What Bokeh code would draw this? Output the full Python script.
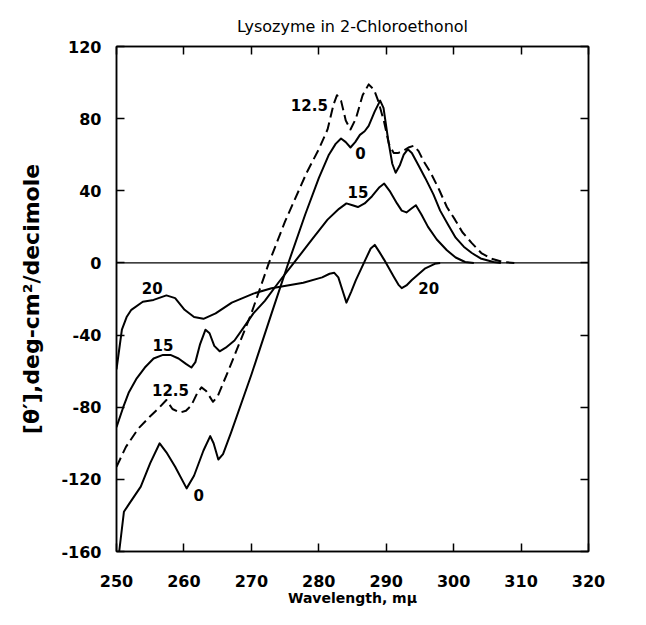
from bokeh.plotting import figure
from bokeh.models import LinearAxis, FixedTicker, Span
from bokeh.embed import file_html
from bokeh.resources import INLINE
from bokeh.core.properties import value

FONT = "DejaVu Sans"

x_ticks = [250, 260, 270, 280, 290, 300, 310, 320]
y_ticks = [-160, -120, -80, -40, 0, 40, 80, 120]
y_tick_labels = ["-160", "-120", "-80", "-40", "0", "40", "80", "120"]

# curve "0" (solid)
wl_0 = [250.4, 251.1, 251.8, 253.6, 255.0, 256.4, 257.4, 258.7, 260.4, 261.5, 262.9, 263.9,
        264.4, 265.1, 265.8, 267.0, 270.0, 273.0, 275.4, 278.0, 280.0, 281.5, 282.5, 283.3,
        284.0, 284.7, 285.4, 286.1, 286.8, 287.4, 288.3, 289.1, 289.6, 290.3, 290.9, 291.4,
        292.0, 292.6, 293.2, 293.8, 294.8, 295.8, 297.0, 298.0, 299.2, 300.3, 301.5, 302.7,
        304.0, 305.9, 307.0]
theta_0 = [-160, -138, -134, -124, -111, -100, -105, -113, -125, -118, -104, -96,
           -100, -109, -106, -94, -62, -28, -1, 27, 47, 60, 66, 69,
           67, 64, 67, 71, 73, 76, 84, 90, 86, 68, 55, 50,
           54, 60, 63, 61, 54, 47, 38, 29, 21, 14, 9, 5.5,
           2.5, 0.5, 0]

# curve "12.5" (dashed)
wl_125 = [250.0, 251.4, 253.2, 255.0, 256.4, 257.4, 258.3, 259.4, 260.3, 261.1, 262.0, 262.6,
          263.3, 264.3, 265.0, 267.0, 270.0, 272.6, 275.0, 278.2, 280.0, 281.3, 282.2, 282.7,
          283.3, 284.0, 284.7, 285.5, 286.5, 287.4, 288.2, 288.8, 289.7, 290.4, 291.1, 291.8,
          292.5, 293.3, 294.1, 294.8, 295.6, 296.6, 297.8, 299.0, 300.2, 301.3, 302.7, 304.1,
          305.5, 307.3, 309.0]
theta_125 = [-113, -102, -92, -85, -80, -76, -81, -83, -82, -79, -72, -69,
             -71, -77, -74, -56, -28, 0, 23, 50, 63, 74, 88, 93,
             90, 79, 74, 80, 93, 99, 96, 90, 78, 66, 61, 61,
             62, 64, 65, 62, 56, 50, 41, 31, 24, 17, 11, 5.5,
             2.5, 0.5, 0]

# curve "15" (solid)
wl_15 = [250.0, 251.0, 251.8, 253.0, 254.2, 255.5, 256.9, 258.0, 259.2, 260.3, 261.1, 261.7,
         262.4, 263.2, 263.8, 264.5, 265.3, 266.2, 267.5, 269.0, 270.3, 272.0, 274.0, 276.3,
         279.0, 281.3, 283.0, 284.1, 285.0, 285.8, 286.8, 287.9, 289.0, 289.7, 290.5, 291.6,
         292.3, 293.0, 293.7, 294.4, 295.2, 296.2, 297.5, 299.0, 300.3, 301.7, 303.0]
theta_15 = [-91, -80, -72, -64, -58, -53, -51, -51, -53, -56, -58, -55,
            -45, -37, -39, -46, -49, -47, -43, -35, -28, -21, -11, 0,
            13, 24, 30, 33, 32, 31, 33, 37, 42, 44, 40, 33,
            29, 28, 30, 32, 27, 20, 13, 7, 3, 0.5, 0]

# curve "20" (solid)
wl_20 = [250.0, 250.4, 250.8, 251.5, 252.2, 253.9, 255.5, 257.4, 258.7, 260.1, 261.5, 262.9,
         264.7, 267.1, 270.3, 273.0, 277.7, 280.5, 281.6, 282.3, 282.9, 283.5, 284.1, 284.8,
         285.5, 286.9, 287.7, 288.3, 289.0, 289.7, 291.1, 291.8, 292.3, 293.0, 293.8, 295.8,
         297.2, 298.0]
theta_20 = [-59, -48, -37, -30, -26, -21.5, -20.5, -18, -19.5, -26, -30, -31,
            -28, -22, -17, -14, -11, -8, -6, -5.5, -8, -15, -22, -16,
            -9.5, 1.7, 8, 10, 6, 1.7, -7.5, -12, -14, -12.5, -9.5, -3,
            -0.5, 0]

label_text = ["12.5", "0", "15", "20", "15", "12.5", "0", "20"]
label_x = [278.6, 286.2, 285.8, 255.3, 256.9, 258.0, 262.2, 296.3]
label_y = [87.5, 61, 39.5, -14, -45.4, -70.4, -128.5, -14]

p = figure(width=630, height=609,
           min_border_left=116, min_border_right=42, min_border_top=46, min_border_bottom=58,
           x_range=(250, 320), y_range=(-160, 120),
           output_backend="svg", toolbar_location=None,
           title="Lysozyme in 2-Chloroethonol")
p.title.align = "center"
p.title.text_font = FONT
p.title.text_font_size = "16px"
p.title.text_font_style = "normal"
p.title.text_color = "black"
p.title.standoff = 22

p.grid.visible = False
p.outline_line_color = "black"
p.outline_line_width = 1.5
p.background_fill_color = "white"
p.border_fill_color = "white"

for ax, ticks in ((p.xaxis[0], x_ticks), (p.yaxis[0], y_ticks)):
    ax.ticker = FixedTicker(ticks=ticks)
    ax.major_tick_in = 8
    ax.major_tick_out = 0
    ax.minor_tick_line_color = None
    ax.axis_line_width = 1.5
    ax.major_tick_line_width = 1.5
    ax.major_label_text_font = FONT
    ax.major_label_text_font_size = "16px"
    ax.major_label_text_font_style = "bold"
    ax.major_label_text_color = "black"
    ax.axis_label_text_font = FONT
    ax.axis_label_text_font_style = "bold"
    ax.axis_label_text_color = "black"

p.yaxis[0].major_label_overrides = dict(zip(y_ticks, y_tick_labels))

p.xaxis[0].axis_label = "Wavelength, mμ"
p.xaxis[0].axis_label_text_font_size = "14px"
p.xaxis[0].major_label_standoff = 23
p.xaxis[0].axis_label_standoff = 0
p.yaxis[0].axis_label = "[θ′],deg-cm²/decimole"
p.yaxis[0].axis_label_text_font_size = "22px"
p.yaxis[0].major_label_standoff = 15
p.yaxis[0].axis_label_standoff = 14

top = LinearAxis(ticker=FixedTicker(ticks=x_ticks), major_tick_in=8, major_tick_out=0,
                 minor_tick_line_color=None, axis_line_width=1.5, major_tick_line_width=1.5,
                 major_label_text_font_size="0px", major_label_text_color=None,
                 major_label_standoff=0)
right = LinearAxis(ticker=FixedTicker(ticks=y_ticks), major_tick_in=8, major_tick_out=0,
                   minor_tick_line_color=None, axis_line_width=1.5, major_tick_line_width=1.5,
                   major_label_text_font_size="0px", major_label_text_color=None,
                   major_label_standoff=0)
p.add_layout(top, "above")
p.add_layout(right, "right")

p.add_layout(Span(location=0, dimension="width", line_color="black", line_width=1.3))

p.line(wl_0, theta_0, line_color="black", line_width=2, line_join="round")
p.line(wl_125, theta_125, line_color="black", line_width=2, line_dash="10 5", line_join="round")
p.line(wl_15, theta_15, line_color="black", line_width=2, line_join="round")
p.line(wl_20, theta_20, line_color="black", line_width=2, line_join="round")

p.text(x=label_x, y=label_y, text=label_text, text_font=value(FONT), text_font_size="15px",
       text_font_style="bold", text_align="center", text_baseline="middle", text_color="black")

open("out.html", "w").write(file_html(p, INLINE))
